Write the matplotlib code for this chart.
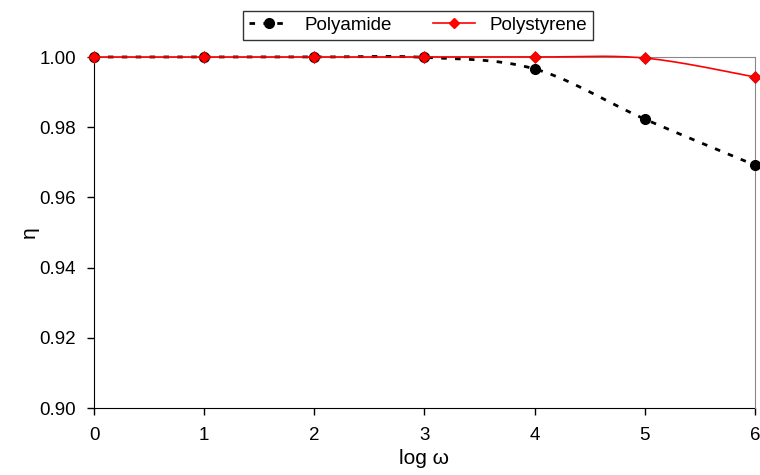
import numpy as np
import matplotlib.pyplot as plt

plt.rcParams['font.family'] = ['Liberation Sans', 'DejaVu Sans']

# data
log_w = [0, 1, 2, 3, 4, 5, 6]
polyamide = [1.0000, 1.0000, 1.0000, 0.9999, 0.9966, 0.9823, 0.9692]
polystyrene = [1.0000, 1.0000, 1.0000, 1.0000, 1.0000, 0.9997, 0.9943]
x_ticks = [0, 1, 2, 3, 4, 5, 6]
y_ticks = [0.90, 0.92, 0.94, 0.96, 0.98, 1.00]


def smooth(x, y, n=30):
    """Catmull-Rom style smoothing, like a spreadsheet smoothed line"""
    x = np.asarray(x, float)
    y = np.asarray(y, float)
    px = np.concatenate([[x[0]], x, [x[-1]]])
    py = np.concatenate([[y[0]], y, [y[-1]]])
    xs, ys = [], []
    for i in range(1, len(px) - 2):
        p0, p1, p2, p3 = (np.array([px[j], py[j]]) for j in range(i - 1, i + 3))
        c1 = p1 + (p2 - p0) / 6
        c2 = p2 - (p3 - p1) / 6
        t = np.linspace(0, 1, n)[:, None]
        pts = ((1 - t) ** 3) * p1 + 3 * ((1 - t) ** 2) * t * c1 + 3 * (1 - t) * t ** 2 * c2 + t ** 3 * p2
        xs.extend(pts[:, 0])
        ys.extend(pts[:, 1])
    return np.array(xs), np.array(ys)


fig = plt.figure(figsize=(7.6, 4.75), dpi=100)
ax = fig.add_axes([0.1237, 0.141, 0.8697, 0.739])

sx, sy = smooth(log_w, polyamide)
ax.plot(sx, sy, color='black', lw=2, ls=(0, (2, 3)), zorder=3, clip_on=False)
ax.plot(log_w, polyamide, 'o', color='black', ms=7, zorder=4, clip_on=False)

sx, sy = smooth(log_w, polystyrene)
ax.plot(sx, sy, color='#ff0000', lw=1.2, zorder=5, clip_on=False)
ax.plot(log_w, polystyrene, 'D', color='#ff0000', mec='#cc0000', mew=0.5, ms=6,
        zorder=6, clip_on=False)

# legend proxies
h1, = ax.plot([], [], color='black', lw=2, ls=(0, (2, 3)), marker='o', ms=7)
h2, = ax.plot([], [], color='#ff0000', lw=1.2, marker='D', ms=5)
leg = ax.legend([h1, h2], ['Polyamide', 'Polystyrene'], ncol=2, loc='center',
                bbox_to_anchor=(0.49, 1.09), frameon=True, fancybox=False,
                fontsize=13.5, handlelength=2.2, columnspacing=2.2,
                borderpad=0.3, edgecolor='black')
leg.get_frame().set_linewidth(1)

ax.set_xlim(0, 6)
ax.set_ylim(0.90, 1.00)
ax.set_xticks(x_ticks)
ax.set_yticks(y_ticks)
ax.set_yticklabels([f'{v:.2f}' for v in y_ticks])
ax.tick_params(direction='out', length=5, labelsize=13.5, width=1)
ax.tick_params(axis='x', pad=9)
ax.tick_params(axis='y', pad=8)

for s in ['top', 'right']:
    ax.spines[s].set_color('#888888')
for s in ['left', 'bottom']:
    ax.spines[s].set_color('black')
    ax.spines[s].set_zorder(2)

ax.set_xlabel('log ω', fontsize=15, labelpad=3)
ax.set_ylabel('η', fontsize=15, labelpad=0)

fig.savefig('out.png', dpi=100)
